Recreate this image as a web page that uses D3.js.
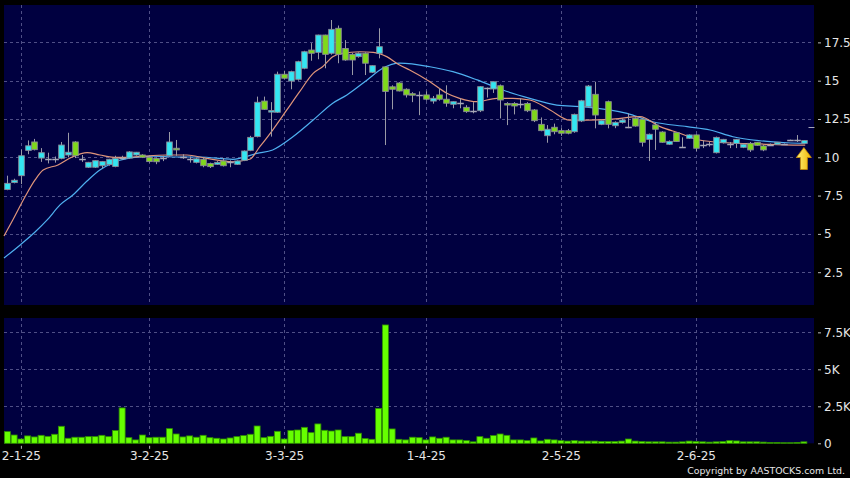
<!DOCTYPE html>
<html><head><meta charset="utf-8">
<script src="https://cdn.jsdelivr.net/npm/d3@7"></script>
<style>body{margin:0;background:#000;}svg{display:block;}</style>
</head><body><svg id="c" width="850" height="478"></svg>
<script>
// ---- data ----
const open  = [7.9,8.35,8.8,10.45,11.0,9.95,9.87,9.87,9.93,10.15, 11.0,9.9,9.35,9.35,9.45,9.52,9.4,9.97,9.95,10.15, 10.15,10.0,9.93,9.93,10.1,10.59,10.05,9.87,9.67,9.87, 9.6,9.54,9.76,9.7,9.54,9.8,10.45,11.35,13.67,12.95, 12.94,15.42,14.98,15.09,15.81,17.0,16.85,17.98,16.79,18.42, 17.1,16.72,16.57,16.79,15.55,16.79,15.9,14.6,14.85,14.44, 14.15,14.07,14.07,13.67,14.07,13.79,13.46,13.56,13.26,13.02, 13.04,14.5,14.46,14.67,13.51,13.51,13.5,13.51,13.09,12.15, 11.41,11.96,11.74,11.74,11.67,12.37,13.3,14.11,12.15,13.63, 12.06,12.28,11.96,12.54,12.48,11.17,12.11,11.65,10.85,11.61, 10.7,11.24,11.46,10.8,10.9,10.3,10.95,10.9,10.9,10.65, 10.91,10.98,10.74,10.8,10.85,10.87,11.13,11.13,10.91,11.96];
const high  = [8.8,8.6,10.5,11.1,11.2,10.6,10.3,10.05,11.0,11.6, 11.05,10.15,9.7,9.8,9.76,9.9,10.1,10.1,10.4,10.35, 10.2,10.05,9.98,10.1,11.65,11.13,10.2,10.05,9.95,9.95, 9.65,9.75,9.95,9.8,9.8,10.45,11.4,13.96,13.96,13.6, 15.59,15.65,15.65,16.3,16.95,17.45,18.0,18.0,18.96,18.6, 17.65,16.8,16.85,16.85,16.0,18.42,15.95,14.7,14.9,14.5, 14.25,14.3,14.3,14.0,14.5,14.7,13.65,13.85,13.4,13.6, 14.65,14.55,14.95,14.75,13.6,13.6,13.85,13.6,13.15,12.6, 12.1,12.2,11.9,11.85,12.85,13.75,14.72,14.93,12.45,13.7, 12.35,12.54,12.87,12.6,12.55,11.55,12.3,11.7,11.1,11.65, 11.3,11.5,11.5,11.1,11.0,11.35,11.2,11.0,11.2,10.9, 11.0,11.0,10.8,10.9,11.0,10.9,11.15,11.45,11.1,11.96];
const low   = [7.85,8.3,8.25,10.2,10.45,9.7,9.6,9.65,9.87,10.0, 9.95,9.7,9.3,9.3,9.3,9.45,9.35,9.85,9.9,10.1, 9.95,9.65,9.55,9.75,10.05,10.1,9.9,9.65,9.6,9.35, 9.3,9.5,9.4,9.35,9.5,9.75,10.4,11.3,13.1,11.35, 12.9,15.1,14.44,15.0,15.75,16.3,16.4,15.81,16.7,16.14, 16.3,15.37,16.5,15.37,15.5,16.46,10.8,13.13,14.3,13.9, 13.6,12.75,13.7,13.5,13.7,13.3,13.2,13.2,12.9,12.87, 12.95,13.9,14.2,12.54,12.1,12.8,13.2,12.95,12.3,11.7, 10.95,11.5,11.4,11.5,11.6,12.3,13.25,11.89,12.1,11.89, 11.9,12.2,11.9,12.0,10.7,9.76,10.48,10.95,10.8,11.0, 10.65,11.2,10.4,10.6,10.7,10.25,10.9,10.6,10.6,10.6, 10.35,10.75,10.4,10.75,10.8,10.85,11.1,11.0,10.9,11.96];
const close = [8.3,8.5,10.1,10.75,10.5,10.3,9.87,9.87,10.8,10.33, 10.1,9.9,9.67,9.78,9.72,9.87,9.93,9.97,10.35,10.33, 10.0,9.72,9.71,9.93,11.0,10.48,10.05,9.87,9.9,9.45, 9.39,9.67,9.45,9.7,9.76,10.41,11.3,13.59,13.13,13.05, 15.42,15.16,15.59,16.24,16.89,16.79,17.98,16.72,18.35,16.72, 16.35,16.35,16.79,16.14,15.98,17.22,14.3,14.44,14.33,14.07, 14.1,14.07,13.79,13.85,13.79,13.53,13.63,13.56,12.98,13.02, 14.61,14.5,14.93,13.74,13.41,13.35,13.5,13.04,12.39,11.74, 11.83,11.67,11.57,11.57,12.8,13.69,14.65,12.76,12.39,12.15, 12.28,12.43,11.96,12.04,10.98,11.5,11.83,10.98,11.04,11.03, 10.7,11.46,10.59,10.8,10.9,11.3,11.17,10.9,11.17,10.85, 10.48,10.78,10.48,10.8,10.98,10.87,11.13,11.13,11.09,11.96];
// volume in thousands
const volume = [0.79,0.56,0.29,0.5,0.43,0.54,0.47,0.61,1.15,0.34, 0.41,0.41,0.45,0.45,0.54,0.45,0.86,2.39,0.38,0.23, 0.56,0.38,0.41,0.41,0.99,0.63,0.43,0.5,0.41,0.54, 0.38,0.34,0.29,0.36,0.45,0.52,0.61,1.17,0.38,0.47, 0.81,0.29,0.86,0.9,1.08,0.72,1.31,0.88,0.83,0.9, 0.45,0.45,0.68,0.32,0.27,2.36,8.0,0.97,0.27,0.23, 0.41,0.38,0.23,0.43,0.34,0.41,0.23,0.23,0.18,0.1, 0.45,0.34,0.52,0.63,0.54,0.23,0.23,0.18,0.36,0.16, 0.27,0.23,0.18,0.15,0.18,0.15,0.15,0.15,0.12,0.12, 0.12,0.15,0.29,0.15,0.12,0.1,0.1,0.1,0.08,0.08, 0.1,0.15,0.12,0.1,0.08,0.1,0.12,0.18,0.16,0.1, 0.1,0.1,0.08,0.05,0.05,0.04,0.04,0.06,0.1,0];
// moving averages: [candle index, value]
const maShort = [[-0.5,4.86],[0.8,5.91],[2.6,7.41],[4.1,8.52],[5.3,9.17],[7.5,9.5],[9.6,10.02],[11.8,10.31],[13.7,10.15],[16.2,9.99],[18.6,10.02],[23.6,10.15],[26.6,10.15],[29.3,9.95],[33.4,9.71],[35.9,9.87],[37.4,10.69],[39.3,11.78],[41.4,13.09],[43.3,14.28],[45.3,15.48],[46.7,15.91],[48.2,16.57],[49.7,16.79],[52.2,16.89],[54.2,16.85],[56.2,16.57],[58.1,16.02],[59.6,15.7],[62.6,14.93],[65.1,14.18],[67,13.85],[69.6,13.63],[72.5,13.85],[74.9,13.85],[77.4,13.74],[80.4,13.09],[83.3,12.43],[85.8,12.43],[89.3,12.48],[93.7,12.65],[96.7,12.0],[99.6,11.57],[102.5,11.13],[106.6,10.95],[111.5,10.87],[116.4,10.8],[118.2,10.8]];
const maLong = [[-0.5,3.43],[1.9,4.28],[4.1,5.12],[5.9,5.91],[7.8,6.89],[9.7,7.54],[11.8,8.45],[13.7,9.17],[15.6,9.63],[18.2,9.96],[21.6,10.08],[24.5,10.02],[28.5,10.02],[33.4,9.87],[37,10.26],[39.3,10.48],[42.3,11.34],[45.3,12.43],[48.2,13.53],[50.3,14.07],[53.3,15.05],[55.6,15.81],[58.1,16.14],[62.6,15.91],[66,15.59],[69.6,15.05],[73.4,14.39],[77.4,13.85],[81.4,13.41],[85.3,13.3],[91.8,12.87],[95.6,12.32],[100.7,12.0],[104.1,11.78],[107.5,11.34],[111.5,11.08],[115.5,10.95],[118.2,10.91]];
const priceTicks = [2.5,5,7.5,10,12.5,15,17.5];
const volTicks = [0,2.5,5,7.5];
const dateLabels = ["2-1-25","3-2-25","3-3-25","1-4-25","2-5-25","2-6-25"];
const dateIdx = [2,21,41,62,82,102];
const lastIdx = 118;

// ---- drawing ----
const svg = d3.select("#c");
const N = open.length;
const L = 4, R = 814;
const pTop = 5, pBot = 305, vTop = 318, vBot = 443.3;
const x = d3.scaleLinear().domain([-0.5, N - 0.5]).range([L, R]);
const y = d3.scaleLinear().domain([0.359, 19.94]).range([pBot, pTop]);
const yv = d3.scaleLinear().domain([0, 8.47]).range([vBot, vTop]);
const bw = 5.6;
const navy = "#000040";
const gridC = "#4f4f86";

svg.append("rect").attr("width",850).attr("height",478).attr("fill","#000");
svg.append("rect").attr("x",L).attr("y",pTop).attr("width",R-L).attr("height",pBot-pTop).attr("fill",navy);
svg.append("rect").attr("x",L).attr("y",vTop).attr("width",R-L).attr("height",vBot-vTop).attr("fill",navy);

const g = svg.append("g");
// grid
g.selectAll(".hp").data(priceTicks).join("line")
  .attr("x1",L).attr("x2",R).attr("y1",d=>Math.round(y(d))+0.5).attr("y2",d=>Math.round(y(d))+0.5)
  .attr("stroke",gridC).attr("stroke-dasharray","3,3");
g.selectAll(".hv").data(volTicks.filter(d=>d>0)).join("line")
  .attr("x1",L).attr("x2",R).attr("y1",d=>Math.round(yv(d))+0.5).attr("y2",d=>Math.round(yv(d))+0.5)
  .attr("stroke",gridC).attr("stroke-dasharray","3,3");
dateIdx.forEach(i=>{
  const xx = Math.round(x(i))+0.5;
  g.append("line").attr("x1",xx).attr("x2",xx).attr("y1",pTop).attr("y2",pBot).attr("stroke",gridC).attr("stroke-dasharray","3,3");
  g.append("line").attr("x1",xx).attr("x2",xx).attr("y1",vTop).attr("y2",vBot).attr("stroke",gridC).attr("stroke-dasharray","3,3");
});

// MAs
const lineGen = d3.line().x(d=>x(d[0])).y(d=>y(d[1])).curve(d3.curveMonotoneX);
g.append("path").datum(maLong).attr("d",lineGen).attr("fill","none").attr("stroke","#4fb0f0").attr("stroke-width",1.2);
g.append("path").datum(maShort).attr("d",lineGen).attr("fill","none").attr("stroke","#e0957a").attr("stroke-width",1.2);

// candles
const idx = d3.range(N);
const cg = g.append("g");
idx.forEach(i=>{
  const cx = Math.round(x(i)) + 0.5;
  const o = open[i], c = close[i], h = high[i], l = low[i];
  if (i === N-1) {
    cg.append("line").attr("x1",cx-3).attr("x2",cx+3).attr("y1",Math.round(y(c))+0.5).attr("y2",Math.round(y(c))+0.5).attr("stroke","#a8a8b8");
    return;
  }
  cg.append("line").attr("x1",cx).attr("x2",cx).attr("y1",y(h)).attr("y2",y(l)).attr("stroke","#9a9aa6").attr("stroke-width",1);
  const top = y(Math.max(o,c)), bot = y(Math.min(o,c));
  if (Math.abs(o-c) < 0.005) {
    cg.append("line").attr("x1",cx-bw/2-0.5).attr("x2",cx+bw/2+0.5).attr("y1",Math.round(top)+0.5).attr("y2",Math.round(top)+0.5).attr("stroke","#a8a8b8").attr("stroke-width",1.5);
  } else {
    cg.append("rect").attr("x",cx-bw/2).attr("y",top).attr("width",bw).attr("height",Math.max(1.5,bot-top))
      .attr("fill", c>o ? "#33e6f2" : "#7fd91a").attr("stroke","#8a8a96").attr("stroke-width",0.9);
  }
});

// volume bars
g.selectAll(".vb").data(idx.filter(i=>volume[i]>0)).join("rect")
  .attr("x",i=>x(i)-3).attr("width",6)
  .attr("y",i=>yv(volume[i])).attr("height",i=>vBot-yv(volume[i]))
  .attr("fill","#66ff00").attr("stroke","#2f8f00").attr("stroke-width",0.8);

// arrow at last close
const ax = x(lastIdx), ay = y(low[lastIdx]) + 4;
const grad = svg.append("defs").append("linearGradient").attr("id","ag").attr("x1","0").attr("x2","1");
grad.append("stop").attr("offset","0").attr("stop-color","#fff27a");
grad.append("stop").attr("offset","1").attr("stop-color","#f0b400");
g.append("path")
  .attr("d",`M${ax},${ay} L${ax+7.5},${ay+10} L${ax+3.5},${ay+10} L${ax+3.5},${ay+22} L${ax-3.5},${ay+22} L${ax-3.5},${ay+10} L${ax-7.5},${ay+10} Z`)
  .attr("fill","url(#ag)").attr("stroke","#c88a00").attr("stroke-width",0.8);

// axes
const txt = "#e6e6e6";
const pa = svg.append("g").attr("transform",`translate(${R+4},0)`)
  .call(d3.axisRight(y).tickValues(priceTicks).tickSize(3).tickPadding(3).tickFormat(d3.format("~g")));
const va = svg.append("g").attr("transform",`translate(${R+4},0)`)
  .call(d3.axisRight(yv).tickValues(volTicks).tickSize(3).tickPadding(3).tickFormat(d=>d===0?"0":d3.format("~g")(d)+"K"));
const xa = svg.append("g").attr("transform",`translate(0,${vBot+2.5})`)
  .call(d3.axisBottom(x).tickValues(dateIdx).tickSize(3).tickPadding(3).tickFormat((d,k)=>dateLabels[k]));
[pa,va,xa].forEach(a=>{
  a.select(".domain").remove();
  a.selectAll("line").attr("stroke","#bbbbbb");
  a.selectAll("text").attr("fill",txt).style("font-family","DejaVu Sans, sans-serif").style("font-size","12px");
});
svg.append("text").attr("x",845).attr("y",474).attr("text-anchor","end").attr("fill",txt)
  .style("font-family","DejaVu Sans, sans-serif").style("font-size","9.4px").text("Copyright by AASTOCKS.com Ltd.");
</script></body></html>
